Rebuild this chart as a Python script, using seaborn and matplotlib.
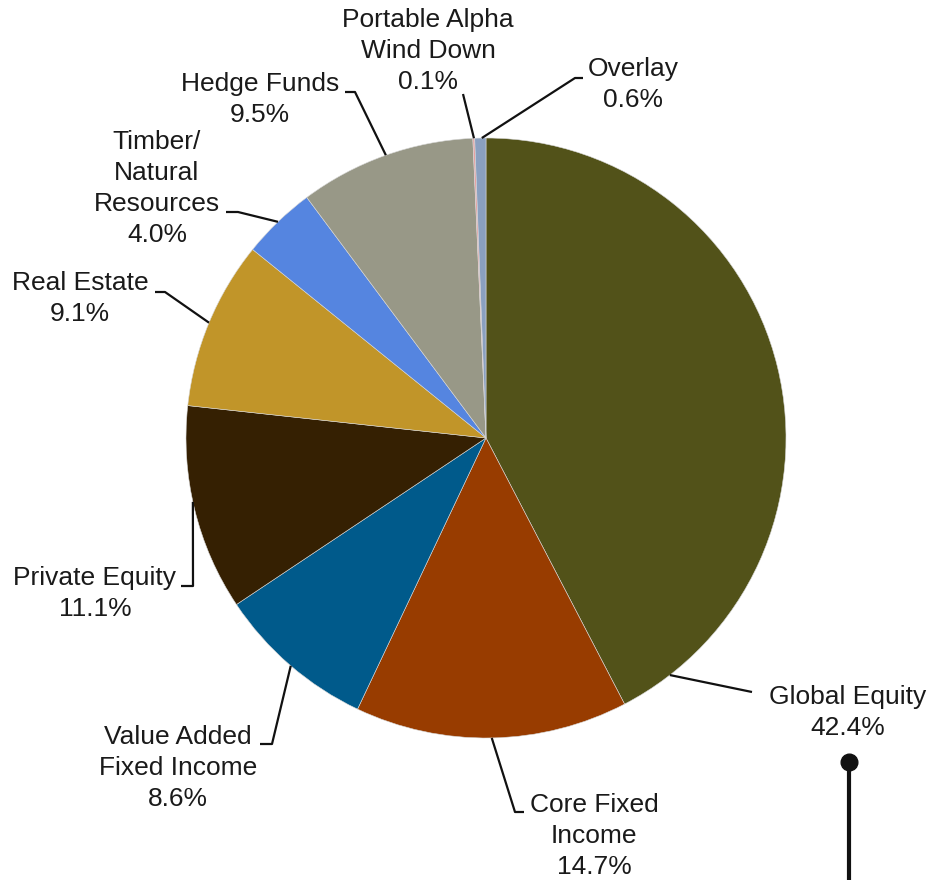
import numpy as np
import matplotlib
matplotlib.use("Agg")
import matplotlib.pyplot as plt
import seaborn as sns

# ---------------- data ----------------
labels = ["Global Equity", "Core Fixed\nIncome", "Value Added\nFixed Income", "Private Equity",
          "Real Estate", "Timber/\nNatural\nResources", "Hedge Funds",
          "Portable Alpha\nWind Down", "Overlay"]
values = [42.4, 14.7, 8.6, 11.1, 9.1, 4.0, 9.5, 0.1, 0.6]
colors = ["#525219", "#983C00", "#005A8B", "#352002", "#C19529",
          "#5585E0", "#989887", "#E8A0A0", "#8AA0C0"]

# ---------------- layout (pixels, y from top) ----------------
W, H = 928, 880
cx, cy, R = 486, 438, 300
# angle where each leader leaves the rim (degrees, standard orientation)
anchor_deg = [-52.2, -88.9, -130.6, -167.7, 157.4, 133.9, 109.5, 92.3, 90.8]
# elbow point, end of short horizontal tick (None = straight)
elbows = [(752, 692), (515, 812), (272, 744), (193, 586), (165, 292),
          (238, 212), (355, 92), (463, 94), (575, 78)]
ends = [None, (524, 812), (260, 744), (181, 586), (155, 292),
        (226, 212), (345, 92), None, (583, 78)]
# text centre (x, y of first line)
text_pos = [(848, 697), (594, 805), (178, 737), (95, 578), (80, 283),
            (157, 142), (260, 84), (428, 20), (633, 69)]

sns.set_theme(style="white")
plt.rcParams["font.family"] = ["Liberation Sans", "DejaVu Sans"]

fig = plt.figure(figsize=(W / 100, H / 100), dpi=100)
ax = fig.add_axes([0, 0, 1, 1])

fy = lambda y: H - y

ax.pie(values, colors=colors, startangle=90, counterclock=False,
       center=(cx, fy(cy)), radius=R, frame=True,
       wedgeprops=dict(linewidth=0.4, edgecolor="#d8d8d8"))
ax.set_xlim(0, W)
ax.set_ylim(0, H)
ax.set_aspect("equal")
ax.axis("off")

line_kw = dict(color="#111111", lw=1.6, solid_capstyle="butt")
for lab, v, ang, elb, end, tp in zip(labels, values, anchor_deg, elbows, ends, text_pos):
    a = np.deg2rad(ang)
    x0, y0 = cx + R * np.cos(a), cy - R * np.sin(a)
    xs = [x0, elb[0]]
    ys = [y0, elb[1]]
    if end is not None:
        xs.append(end[0])
        ys.append(end[1])
    ax.plot(xs, [fy(y) for y in ys], **line_kw)
    txt = f"{lab}\n{v:.1f}%"
    for i, line in enumerate(txt.split("\n")):
        ax.text(tp[0], fy(tp[1] + i * 31), line, ha="center", va="center",
                fontsize=19, color="#1a1a1a")

# marker with stem below Global Equity label
ax.plot([849, 849], [fy(762), fy(H + 5)], color="#111111", lw=3, solid_capstyle="butt")
ax.plot([849], [fy(762)], marker="o", markersize=12, color="#111111")

fig.savefig("out.png", dpi=100)
